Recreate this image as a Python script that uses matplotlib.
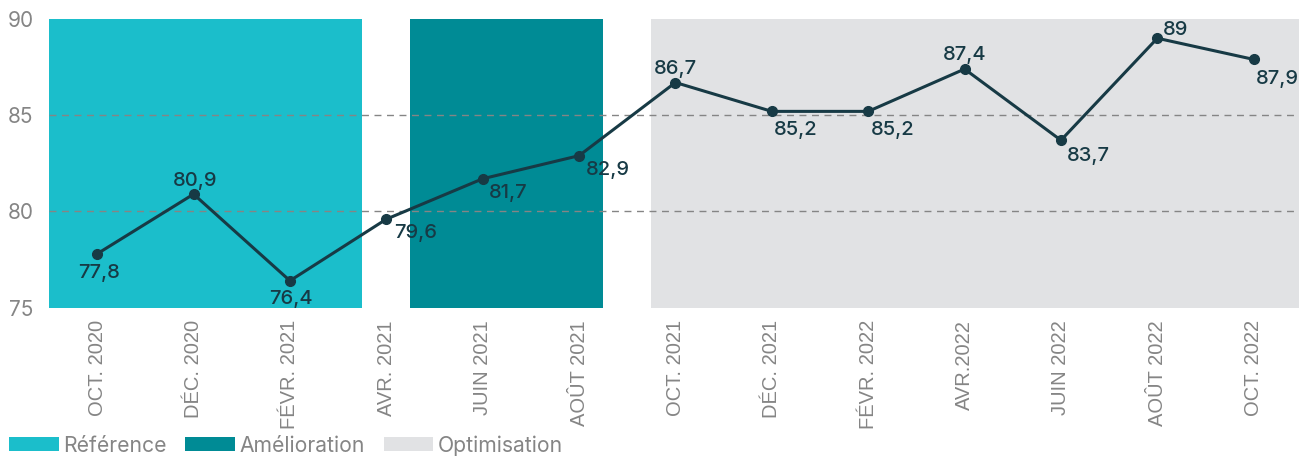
import matplotlib.pyplot as plt

# données
mois = ['OCT. 2020', 'DÉC. 2020', 'FÉVR. 2021', 'AVR. 2021', 'JUIN 2021', 'AOÛT 2021',
        'OCT. 2021', 'DÉC. 2021', 'FÉVR. 2022', 'AVR.2022', 'JUIN 2022', 'AOÛT 2022', 'OCT. 2022']
valeurs = [77.8, 80.9, 76.4, 79.6, 81.7, 82.9, 86.7, 85.2, 85.2, 87.4, 83.7, 89, 87.9]
phases = ['Référence', 'Amélioration', 'Optimisation']
phase_debut = [-0.5, 3.25, 5.75]
phase_fin = [2.75, 5.25, 12.5]
phase_couleurs = ['#1bbecb', '#008b95', '#e1e2e4']

# position des étiquettes (dx, dy en pixels, alignement)
etiq_pos = [(2, -24, 'center'), (2, 8, 'center'), (1, -23, 'center'), (8, -19, 'left'),
            (6, -19, 'left'), (7, -19, 'left'), (0, 9, 'center'), (2, -24, 'left'),
            (3, -24, 'left'), (0, 9, 'center'), (6, -21, 'left'), (6, 3, 'left'),
            (2, -25, 'left')]

gris = '#858585'
ligne = '#173a45'

fig = plt.figure(figsize=(12.99, 4.57), dpi=100)
ax = fig.add_axes([49 / 1299, 1 - 307.7 / 457, 1 - 49 / 1299, (307.7 - 19) / 457])

for nom, d, f, c in zip(phases, phase_debut, phase_fin, phase_couleurs):
    ax.axvspan(d, f, color=c, lw=0, label=nom, zorder=0)

for y in [80, 85]:
    ax.axhline(y, color=gris, lw=1, ls=(0, (5, 4)), zorder=1)

x = list(range(len(mois)))
ax.plot(x, valeurs, color=ligne, lw=2.2, marker='o', ms=7, zorder=3)

for i, v in enumerate(valeurs):
    dx, dy, ha = etiq_pos[i]
    txt = str(v).replace('.', ',')
    ax.annotate(txt, (i, v), xytext=(dx, dy), textcoords='offset pixels',
                ha=ha, va='baseline', fontsize=14.5, color=ligne, family='Inter',
                weight='medium', zorder=4)

ax.set_xlim(-0.5, 12.47)
ax.set_ylim(75, 90)
ax.set_yticks([75, 80, 85, 90])
ax.set_xticks(x)
ax.set_xticklabels(mois, rotation=90, fontsize=14.5, color=gris, family='Liberation Sans')
ax.tick_params(axis='y', length=0, pad=11, labelsize=15, labelcolor=gris)
ax.tick_params(axis='x', length=0, pad=9)
for lab in ax.get_yticklabels():
    lab.set_family('Inter')
for s in ax.spines.values():
    s.set_visible(False)

fig.legend(loc='lower left', bbox_to_anchor=(9 / 1299, 0.003), ncol=3, frameon=False,
           prop={'family': 'Inter', 'size': 15.2}, labelcolor=gris,
           handlelength=2.35, handleheight=0.62, handletextpad=0.2,
           columnspacing=0.9, borderpad=0, borderaxespad=0)

fig.savefig('out.png', dpi=100)
